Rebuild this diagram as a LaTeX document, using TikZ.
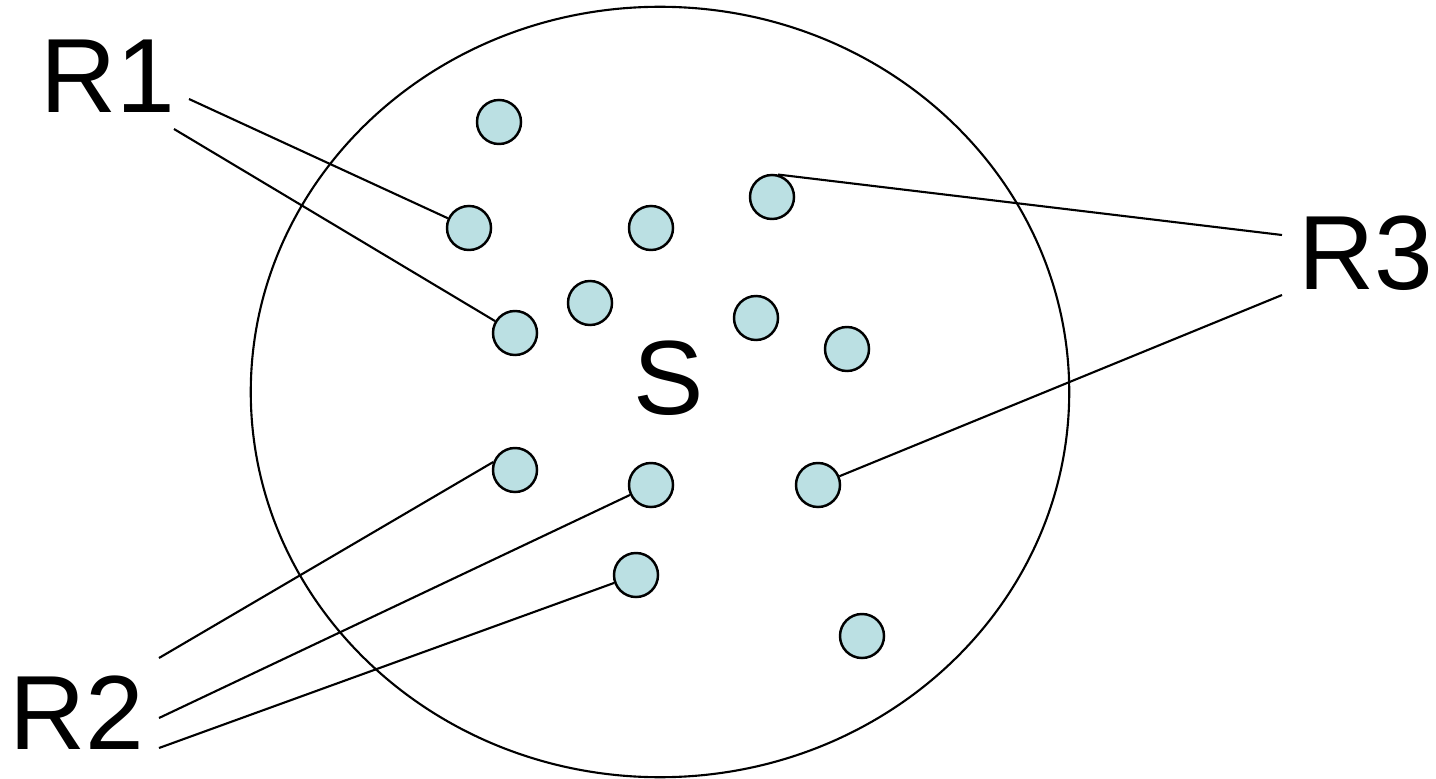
\documentclass[tikz,border=0pt]{standalone}
\usepackage{fontspec}
\setmainfont{Liberation Sans}
\definecolor{dotfill}{RGB}{187,224,227}

\begin{document}
\begin{tikzpicture}[x=0.01cm, y=-0.01cm, line width=0.6pt,
  dot/.style={circle, draw, line width=0.7pt, fill=dotfill, minimum size=0.44cm, inner sep=0pt},
  lbl/.style={anchor=base west, inner sep=0pt, font=\fontsize{30}{36}\selectfont}]

  \useasboundingbox (0,0) rectangle (1436,779);

  % ====== 外圈 S ======
  \draw (660,392) ellipse [x radius=4.09cm, y radius=3.85cm];
  \node[lbl] (s) at (632,414) {S};

  % ====== 点 ======
  \node[dot] (d1) at (499,122) {};
  \node[dot] (d2) at (469,228) {};
  \node[dot] (d3) at (651,228) {};
  \node[dot] (d4) at (772,197) {};
  \node[dot] (d5) at (590,303) {};
  \node[dot] (d6) at (515,333) {};
  \node[dot] (d7) at (756,318) {};
  \node[dot] (d8) at (847,349) {};
  \node[dot] (d9) at (515,470) {};
  \node[dot] (d10) at (651,485) {};
  \node[dot] (d11) at (818,485) {};
  \node[dot] (d12) at (636,575) {};
  \node[dot] (d13) at (862,636) {};

  % ====== R1 ======
  \node[lbl] (r1) at (39,113) {R1};
  \coordinate (r1a) at (189,99);
  \coordinate (r1b) at (174,129);
  \draw (r1a) -- (d2);
  \draw (r1b) -- (d6);

  % ====== R2 ======
  \node[lbl] (r2) at (8,749) {R2};
  \coordinate (r2a) at (159,658);
  \coordinate (r2b) at (159,718);
  \coordinate (r2c) at (159,748);
  \draw (r2a) -- (d9.160);
  \draw (r2b) -- (d10);
  \draw (r2c) -- (d12);

  % ====== R3 ======
  \node[lbl] (r3) at (1297,290) {R3};
  \coordinate (r3a) at (1282,235);
  \coordinate (r3b) at (1282,295);
  \draw (r3a) -- (d4.75);
  \draw (r3b) -- (d11);

\end{tikzpicture}
\end{document}
